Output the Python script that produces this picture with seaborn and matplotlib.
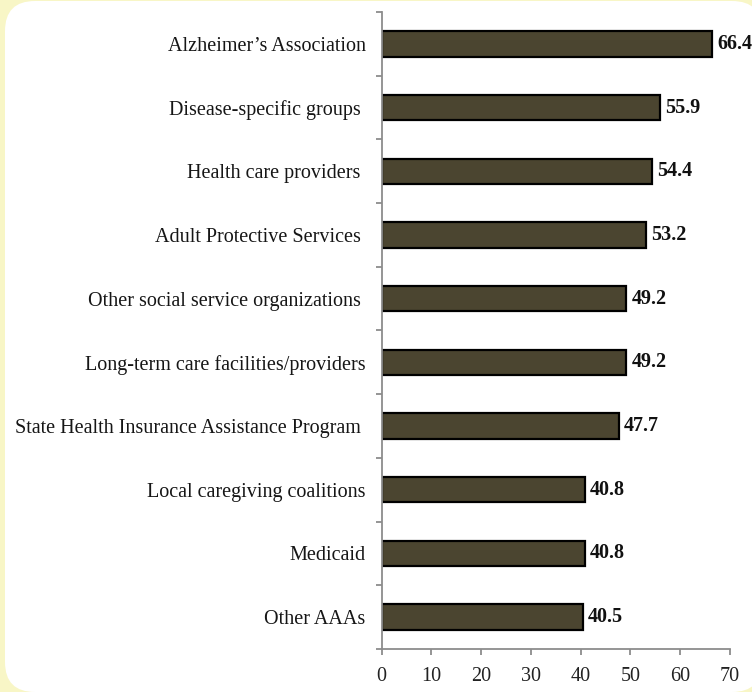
import matplotlib
matplotlib.use("Agg")
import matplotlib.pyplot as plt
from matplotlib.patches import FancyBboxPatch
import seaborn as sns
import pandas as pd

categories = [
    "Alzheimer\u2019s Association",
    "Disease-specific groups ",
    "Health care providers ",
    "Adult Protective Services ",
    "Other social service organizations ",
    "Long-term care facilities/providers",
    "State Health Insurance Assistance Program ",
    "Local caregiving coalitions",
    "Medicaid",
    "Other AAAs",
]
values = [66.4, 55.9, 54.4, 53.2, 49.2, 49.2, 47.7, 40.8, 40.8, 40.5]
x_ticks = [0, 10, 20, 30, 40, 50, 60, 70]

df = pd.DataFrame({"category": categories, "value": values})

sns.set_theme(style="white")
plt.rcParams["font.family"] = ["Liberation Serif", "DejaVu Serif"]

W, H = 752, 692
fig = plt.figure(figsize=(W / 100, H / 100), dpi=100)
fig.patch.set_facecolor("#f8f6c6")

# background panel in pixel coordinates
bgax = fig.add_axes([0, 0, 1, 1])
bgax.set_xlim(0, W)
bgax.set_ylim(H, 0)
bgax.axis("off")
bgax.set_zorder(0)
bgax.add_patch(FancyBboxPatch((5, 1), 757, 691,
                              boxstyle="round,pad=0,rounding_size=30",
                              facecolor="white", edgecolor="none"))

ax = fig.add_axes([381.5 / W, 1 - 649 / H, (730 - 381.5) / W, (649 - 12) / H])
ax.patch.set_alpha(0)
ax.set_zorder(2)

sns.barplot(data=df, y="category", x="value", orient="h", ax=ax,
            color="#4b4530", saturation=1, width=0.4,
            edgecolor="black", linewidth=1.6)

ax.set_xlim(0, 70)
ax.set_ylim(9.5, -0.5)
ax.set_xticks(x_ticks)
ax.set_xticklabels([str(t) for t in x_ticks], fontsize=14.5, color="#222222")
ax.set_yticks(range(len(categories)))
ax.set_yticklabels(categories, fontsize=14.5, color="#161616")
ax.set_xlabel("")
ax.set_ylabel("")

for s in ["top", "right"]:
    ax.spines[s].set_visible(False)
for s in ["left", "bottom"]:
    ax.spines[s].set_color("#8c8c8c")
    ax.spines[s].set_linewidth(1.3)

ax.tick_params(axis="y", which="major", left=True, length=0, pad=11.5)
ax.set_yticks([i + 0.5 for i in range(-1, len(categories))], minor=True)
ax.tick_params(axis="y", which="minor", left=True, length=4, width=1.3,
               color="#8c8c8c", direction="out")
ax.tick_params(axis="x", which="major", bottom=True, length=4, width=1.3,
               color="#8c8c8c", direction="out", pad=9)

for i, v in enumerate(values):
    ax.annotate(f"{v:.1f}", xy=(v, i), xytext=(3.5, 0), textcoords="offset points",
                va="center", ha="left", fontsize=14.5, fontweight="bold",
                color="#111111")

fig.savefig("out.png", dpi=100, facecolor=fig.get_facecolor())
